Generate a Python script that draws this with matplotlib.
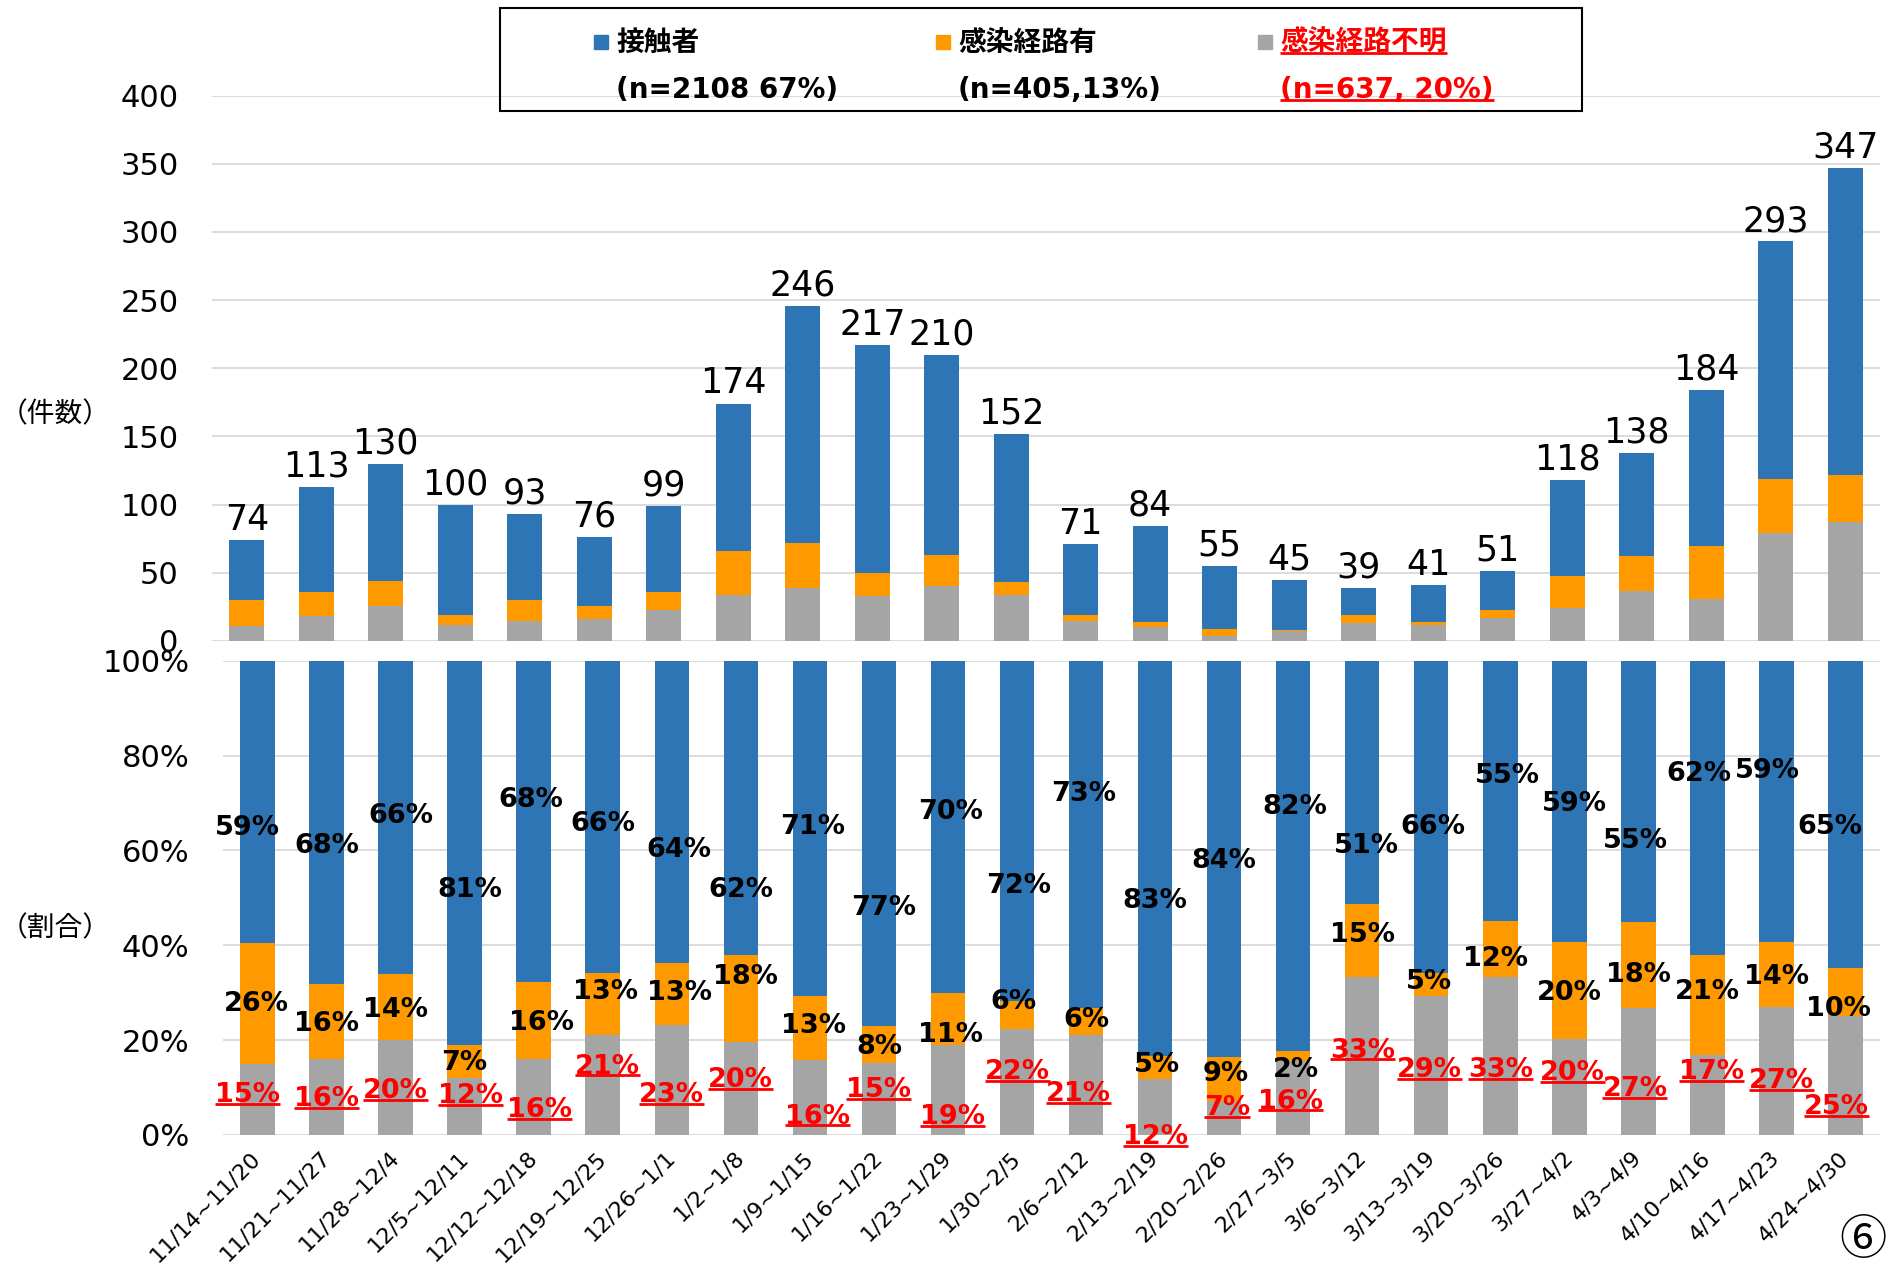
import matplotlib
matplotlib.use("Agg")
from matplotlib import pyplot as plt
from matplotlib.lines import Line2D
from matplotlib.patches import Rectangle
import numpy as np

plt.rcParams["font.family"] = ["DejaVu Sans", "Noto Sans CJK JP"]

# weekly counts
weeks = ["11/14~11/20", "11/21~11/27", "11/28~12/4", "12/5~12/11", "12/12~12/18",
         "12/19~12/25", "12/26~1/1", "1/2~1/8", "1/9~1/15", "1/16~1/22", "1/23~1/29",
         "1/30~2/5", "2/6~2/12", "2/13~2/19", "2/20~2/26", "2/27~3/5", "3/6~3/12",
         "3/13~3/19", "3/20~3/26", "3/27~4/2", "4/3~4/9", "4/10~4/16", "4/17~4/23",
         "4/24~4/30"]
contact = [44, 77, 86, 81, 63, 50, 63, 108, 174, 167, 147, 109, 52, 70, 46, 37, 20, 27,
           28, 70, 76, 114, 174, 225]
route = [19, 18, 18, 7, 15, 10, 13, 32, 33, 17, 23, 9, 4, 4, 5, 1, 6, 2, 6, 24, 25, 39,
         40, 35]
unknown = [11, 18, 26, 12, 15, 16, 23, 34, 39, 33, 40, 34, 15, 10, 4, 7, 13, 12, 17, 24,
           37, 31, 79, 87]
series_names = ["接触者", "感染経路有", "感染経路不明"]
legend_fmt = ["(n={n} {p}%)", "(n={n},{p}%)", "(n={n}, {p}%)"]

# where the percentage labels sit in the lower panel (y in %, x shift in bar units)
contact_lab_y = [64.7, 61.0, 67.2, 51.7, 70.7, 65.6, 60.0, 51.7, 65.0, 47.8, 68.0, 52.5,
                 71.9, 49.4, 57.7, 69.1, 61.0, 65.0, 75.6, 69.8, 61.9, 76.1, 76.7, 65.0]
contact_lab_dx = [-0.15, 0, 0.08, 0.07, -0.04, 0, 0.10, 0, 0.04, 0.07, 0.04, 0.03, -0.04,
                  0, 0, 0.03, 0.06, 0.03, 0.11, 0.07, -0.04, -0.13, -0.13, -0.22]
route_lab_y = [27.6, 23.3, 26.4, 15.1, 23.7, 30.2, 29.9, 33.3, 23.0, 18.5, 21.0, 28.1,
               24.3, 14.8, 12.9, 13.7, 42.2, 32.3, 37.1, 30.0, 33.8, 30.1, 33.3, 26.5]
route_lab_dx = [-0.02, 0, 0, 0, 0.12, 0.04, 0.11, 0.07, 0.05, 0, 0.04, -0.05, 0, 0.03,
                0.03, 0.04, 0, -0.03, -0.07, 0, 0, 0, 0, -0.10]
unknown_lab_y = [8.4, 7.5, 9.3, 8.2, 5.3, 14.4, 8.4, 11.6, 3.9, 9.5, 3.7, 13.2, 8.6,
                 -0.4, 5.6, 7.0, 17.8, 13.7, 13.7, 13.0, 9.6, 13.2, 11.3, 5.8]
unknown_lab_dx = [-0.15, 0, 0, 0.08, 0.09, 0.07, 0, 0, 0.11, 0, 0.07, 0.01, -0.11, 0,
                  0.04, -0.04, 0, -0.03, 0, 0.04, -0.05, 0.06, 0.07, -0.13]

BLUE = "#2E75B6"
ORANGE = "#FF9900"
GRAY = "#A5A5A5"
RED = "#FF0000"
GRID = "#D9D9D9"
W, H = 1892, 1267
CJK = ["Noto Sans CJK JP", "DejaVu Sans"]


def underline(fig, txt, renderer, lw=2.0):
    bb = txt.get_window_extent(renderer)
    fs = txt.get_fontsize() * fig.dpi / 72
    y = bb.y0 + 0.16 * fs
    inv = fig.transFigure.inverted()
    (x0, yy), (x1, _) = inv.transform([(bb.x0, y), (bb.x1, y)])
    fig.add_artist(Line2D([x0, x1], [yy, yy], transform=fig.transFigure,
                          color=txt.get_color(), lw=lw, solid_capstyle="butt"))


def main():
    c = np.array(contact)
    r = np.array(route)
    u = np.array(unknown)
    tot = c + r + u
    x = np.arange(len(weeks))

    fig = plt.figure(figsize=(W / 100, H / 100), dpi=100)
    ax1 = fig.add_axes([212 / W, 1 - 641 / H, (1880 - 212) / W, (641 - 95.6) / H])
    ax2 = fig.add_axes([223 / W, 1 - 1135 / H, (1880 - 223) / W, (1135 - 660.7) / H])

    # upper panel: counts
    ax1.bar(x, u, width=0.5, color=GRAY)
    ax1.bar(x, r, width=0.5, bottom=u, color=ORANGE)
    ax1.bar(x, c, width=0.5, bottom=u + r, color=BLUE)
    for i, t in enumerate(tot):
        ax1.annotate(str(t), (i, t), xytext=(0, 2.5), textcoords="offset points",
                     ha="center", va="bottom", fontsize=25)
    ax1.set_xlim(-0.5, len(weeks) - 0.5)
    ax1.set_ylim(0, 400)
    ax1.set_yticks(range(0, 401, 50))
    ax1.tick_params(axis="y", length=0, pad=24, labelsize=22)
    ax1.tick_params(axis="x", bottom=False, labelbottom=False)

    # lower panel: shares
    cp, rp, up = c / tot * 100, r / tot * 100, u / tot * 100
    ax2.bar(x, up, width=0.5, color=GRAY)
    ax2.bar(x, rp, width=0.5, bottom=up, color=ORANGE)
    ax2.bar(x, cp, width=0.5, bottom=up + rp, color=BLUE)
    ax2.set_xlim(-0.5, len(weeks) - 0.5)
    ax2.set_ylim(0, 100)
    ax2.set_yticks(range(0, 101, 20))
    ax2.set_yticklabels([f"{v}%" for v in range(0, 101, 20)])
    ax2.tick_params(axis="y", length=0, pad=24, labelsize=22)
    ax2.set_xticks(x)
    ax2.set_xticklabels(weeks, rotation=45, ha="right", va="center",
                        rotation_mode="anchor", fontsize=16)
    ax2.tick_params(axis="x", length=0, pad=14)

    red_labels = []
    for i in x:
        ax2.text(i + contact_lab_dx[i], contact_lab_y[i], f"{cp[i]:.0f}%", ha="center",
                 va="center", fontsize=19.5, fontweight="bold")
        ax2.text(i + route_lab_dx[i], route_lab_y[i], f"{rp[i]:.0f}%", ha="center",
                 va="center", fontsize=19.5, fontweight="bold")
        red_labels.append(ax2.text(i + unknown_lab_dx[i], unknown_lab_y[i], f"{up[i]:.0f}%",
                                   ha="center", va="center", fontsize=19.5,
                                   fontweight="bold", color=RED, clip_on=False))

    for ax in (ax1, ax2):
        for s in ax.spines.values():
            s.set_visible(False)
        ax.yaxis.grid(True, color=GRID, lw=1.3)
        ax.set_axisbelow(True)

    fig.text(0, 1 - 414 / H, "（件数）", ha="left", va="center", fontsize=20, family=CJK)
    fig.text(0, 1 - 928 / H, "（割合）", ha="left", va="center", fontsize=20, family=CJK)

    # legend box
    fig.add_artist(Rectangle((500 / W, 1 - 111 / H), 1082 / W, 103 / H, fill=False,
                             ec="black", lw=1.5, transform=fig.transFigure))
    sums = [c.sum(), r.sum(), u.sum()]
    grand = sum(sums)
    legend_x = [594, 936, 1258]
    legend_txt = []
    for k, (name, col) in enumerate(zip(series_names, [BLUE, ORANGE, GRAY])):
        lx = legend_x[k]
        fig.add_artist(Rectangle((lx / W, 1 - 49 / H), 14 / W, 14 / H, color=col,
                                 transform=fig.transFigure))
        tcol = RED if k == 2 else "black"
        t1 = fig.text((lx + 22) / W, 1 - 43 / H, name, ha="left", va="center",
                      fontsize=20, fontweight="bold", color=tcol, family=CJK)
        t2 = fig.text((lx + 22) / W, 1 - 90 / H,
                      legend_fmt[k].format(n=sums[k], p=round(sums[k] / grand * 100)),
                      ha="left", va="center", fontsize=20, fontweight="bold", color=tcol)
        if k == 2:
            legend_txt += [t1, t2]

    fig.text(1863 / W, 1 - 1241 / H, "⑥", ha="center", va="center", fontsize=34,
             family=CJK)

    fig.canvas.draw()
    renderer = fig.canvas.get_renderer()
    for t in red_labels + legend_txt:
        underline(fig, t, renderer)

    fig.savefig("out.png", dpi=100)


if __name__ == "__main__":
    main()
